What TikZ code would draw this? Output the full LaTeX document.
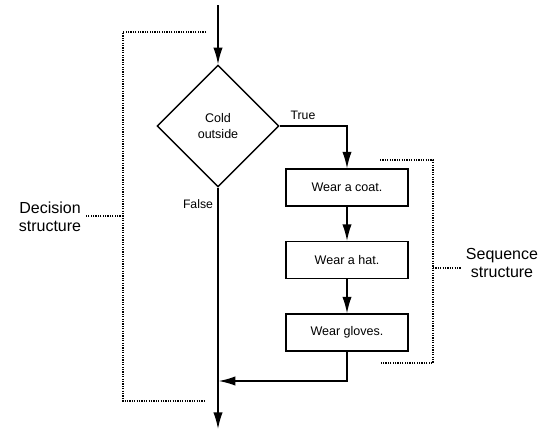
\documentclass[tikz,border=0pt]{standalone}
\usepackage{fontspec}
\setmainfont{Liberation Sans}
\usetikzlibrary{shapes.geometric,arrows.meta}
\tikzset{
  flow/.style={line width=1.1pt,-{Latex[length=12.5pt,width=7pt]}},
  plain/.style={line width=1.1pt},
  stepbox/.style={draw,line width=1.1pt,minimum width=91.5pt,minimum height=27.5pt,inner sep=0pt,font=\fontsize{9.4}{11}\selectfont},
  decide/.style={draw,diamond,line width=1.1pt,minimum width=91.5pt,minimum height=91.5pt,inner sep=0pt,align=center,font=\fontsize{9.4}{11.5}\selectfont},
  brace/.style={line width=0.9pt,dash pattern=on 0.9pt off 0.9pt},
  small/.style={font=\fontsize{9.2}{11}\selectfont},
  big/.style={font=\fontsize{12}{13.5}\selectfont,align=center}
}
\begin{document}
\begin{tikzpicture}[x=0.75pt,y=-0.75pt]
\useasboundingbox (0,0) rectangle (547,437);
\coordinate (start) at (218,5);
\node[decide] (cold) at (218,126) {Cold\\outside};
\node[stepbox] (coat) at (347,187.5) {Wear a coat.};
\node[stepbox] (hat) at (347,260) {Wear a hat.};
\node[stepbox] (gloves) at (347,332.5) {Wear gloves.};
\coordinate (merge) at (218,381);
\coordinate (finish) at (218,429);
\node[small] (truelbl) at (303,115) {True};
\node[small] (falselbl) at (198,204) {False};
\draw[flow] (start) -- (cold.north);
\draw[flow] (cold.east) -| (coat.north);
\draw[flow] (coat) -- (hat);
\draw[flow] (hat) -- (gloves);
\draw[flow] (gloves.south) |- ([xshift=0.5pt]merge);
\draw[flow] (cold.south) -- (finish);
% decision bracket
\node[big] (declbl) at (50,217) {Decision\\structure};
\coordinate (d1) at (206,32);
\coordinate (d2) at (123,32);
\coordinate (d3) at (123,401);
\coordinate (d4) at (205,401);
\coordinate (dm) at (123,216);
\draw[brace] (d1) -- (d2) -- (d3) -- (d4);
\draw[brace] (dm) -- (declbl.east |- dm);
% sequence bracket
\node[big] (seqlbl) at (502,263) {Sequence\\structure};
\coordinate (s1) at (380,160);
\coordinate (s2) at (433,160);
\coordinate (s3) at (433,363);
\coordinate (s4) at (380,363);
\coordinate (sm) at (433,268);
\draw[brace] (s1) -- (s2) -- (s3) -- (s4);
\draw[brace] (sm) -- (seqlbl.west |- sm);
\end{tikzpicture}
\end{document}
